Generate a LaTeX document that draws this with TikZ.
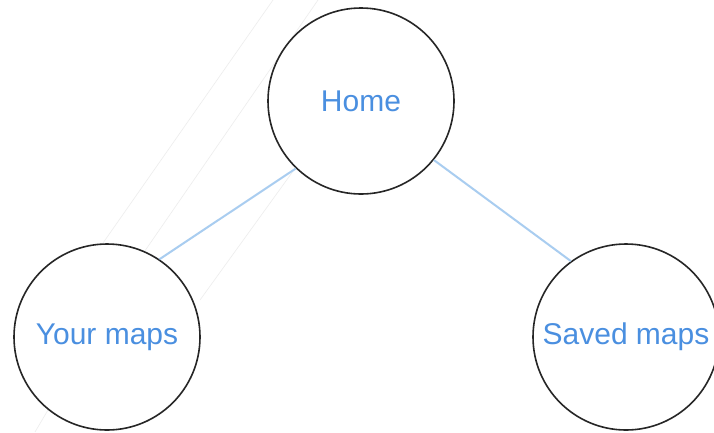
\documentclass[tikz,border=0pt]{standalone}
\usepackage{fontspec}
\setmainfont{Liberation Sans}
\definecolor{labelblue}{HTML}{4A8FE0}
\definecolor{edgeblue}{HTML}{A9CDF0}
\begin{document}
\begin{tikzpicture}[x=1pt,y=-1pt,
  page/.style={circle,draw=black!85,line width=1.6pt,fill=white,minimum size=186pt,inner sep=0pt,
    text=labelblue,font=\fontsize{30}{36}\selectfont},
  link/.style={draw=edgeblue,line width=2pt},
  ghost/.style={draw=black!7,line width=0.6pt}]
\useasboundingbox (0,0) rectangle (714,432);
\fill[white] (0,0) rectangle (714,432);
% faint background lines
\draw[ghost] (103,243) -- (273,0);
\draw[ghost] (140,258) -- (318,0);
\draw[ghost] (200,300) -- (330,120);
\draw[ghost] (35,432) -- (48,410);
\node[page] (home) at (361,101) {Home};
\node[page] (your) at (107,337) {Your maps};
\node[page] (saved) at (626,337) {Saved maps};
\begin{scope}[on background layer/.try]
\end{scope}
\draw[link] (home.226) -- (your.56);
\draw[link] (home.-39) -- (saved.126);
\end{tikzpicture}
\end{document}
